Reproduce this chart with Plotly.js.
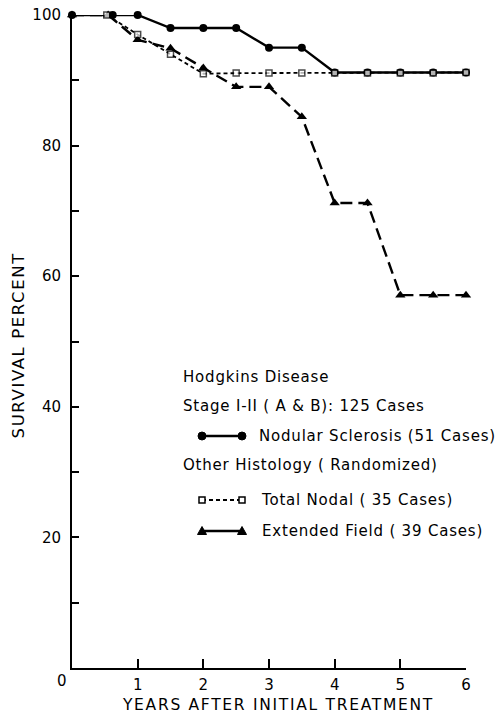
<!DOCTYPE html>
<html><head><meta charset="utf-8">
<script src="https://cdn.plot.ly/plotly-3.0.1.min.js"></script>
<style>
html,body{margin:0;padding:0;background:#fff}
#chart{width:495px;height:715px}
.annotation-text{letter-spacing:0.8px}
</style></head><body><div id="chart"></div>
<script>
// Data
const yearsNodular = [0, 0.62, 1, 1.5, 2, 2.5, 3, 3.5, 4, 4.5, 5, 5.5, 6];
const survNodular  = [100, 100, 100, 98, 98, 98, 95, 95, 91.2, 91.2, 91.2, 91.2, 91.2];
const yearsTotal   = [0, 0.53, 1, 1.5, 2, 2.5, 3, 3.5, 4, 4.5, 5, 5.5, 6];
const survTotal    = [100, 100, 97, 94, 91, 91.1, 91.1, 91.1, 91.1, 91.1, 91.1, 91.1, 91.2];
const yearsExt     = [0, 0.55, 1, 1.5, 2, 2.5, 3, 3.5, 4, 4.5, 5, 5.5, 6];
const survExt      = [100, 100, 96.2, 94.9, 91.9, 89, 89, 84.4, 71.2, 71.2, 57.1, 57.1, 57.1];
const xTickVals = [1, 2, 3, 4, 5, 6];
const xTickText = ['1', '2', '3', '4', '5', '6'];
const yTickVals = [0, 10, 20, 30, 40, 50, 60, 70, 80, 90, 100];
const yTickText = ['', '', '20', '', '40', '', '60', '', '80', '', '100'];
const namesSeries = ['Nodular Sclerosis (51 Cases)', 'Total Nodal ( 35 Cases)', 'Extended Field ( 39 Cases)'];

const W = 495, H = 715, L = 72, R = 29, T = 15, B = 47;
const pw = W - L - R, ph = H - T - B;
function px(x) { return (x - L) / pw; }
function py(y) { return (H - B - y) / ph; }

const traces = [
  {x: yearsExt, y: survExt, mode: 'lines+markers', name: namesSeries[2], cliponaxis: false,
   line: {color: '#000', width: 2.4, dash: '12px,6px'},
   marker: {symbol: 'triangle-up', size: 9, color: '#000'}},
  {x: yearsNodular, y: survNodular, mode: 'lines+markers', name: namesSeries[0], cliponaxis: false,
   line: {color: '#000', width: 2.4},
   marker: {symbol: 'circle', size: 8, color: '#000'}},
  {x: yearsTotal, y: survTotal, mode: 'lines+markers', name: namesSeries[1], cliponaxis: false,
   line: {color: '#000', width: 1.8, dash: '4px,3px'},
   marker: {symbol: 'square', size: yearsTotal.map(v => v === 0 ? 0 : 6), color: '#fff',
            line: {color: '#000', width: 1.5}}}
];

const F = 'DejaVu Sans, sans-serif';
function txt(text, x, y, size, xanchor, extra) {
  return Object.assign({text: text, x: px(x), y: py(y), xref: 'paper', yref: 'paper',
    xanchor: xanchor || 'left', yanchor: 'middle', showarrow: false,
    font: {family: F, size: size, color: '#000'}}, extra || {});
}

const annotations = [
  txt('SURVIVAL PERCENT', 18, 345, 16.5, 'center', {textangle: -90}),
  txt('YEARS AFTER INITIAL TREATMENT', 278, 705, 15.5, 'center'),
  txt('0', 62, 681, 15, 'center'),
  txt('Hodgkins Disease', 181, 377, 15),
  txt('Stage I-II ( A &amp; B): 125 Cases', 181, 406, 15),
  txt(namesSeries[0], 257, 436, 15),
  txt('Other Histology ( Randomized)', 181, 465, 15),
  txt(namesSeries[1], 259, 500, 15),
  txt(namesSeries[2], 260, 531, 15)
];

function lineShape(x0, x1, y, width, dash) {
  return {type: 'line', xref: 'paper', yref: 'paper', x0: px(x0), x1: px(x1), y0: py(y), y1: py(y),
    line: {color: '#000', width: width, dash: dash || 'solid'}};
}
function markShape(kind, x, y) {
  const base = {xref: 'paper', yref: 'paper', xsizemode: 'pixel', ysizemode: 'pixel',
    xanchor: px(x), yanchor: py(y)};
  if (kind === 'circle') return Object.assign(base, {type: 'circle', x0: -4, x1: 4, y0: -4, y1: 4,
    fillcolor: '#000', line: {color: '#000', width: 1}});
  if (kind === 'square') return Object.assign(base, {type: 'rect', x0: -3, x1: 3, y0: -3, y1: 3,
    fillcolor: '#fff', line: {color: '#000', width: 1.5}});
  return Object.assign(base, {type: 'path', path: 'M-4.5,-3.5 L4.5,-3.5 L0,4.5 Z',
    fillcolor: '#000', line: {color: '#000', width: 1}});
}
const shapes = [
  lineShape(202, 242, 436, 2.4), markShape('circle', 202, 436), markShape('circle', 242, 436),
  lineShape(202, 242, 500, 1.8, '4px,3px'), markShape('square', 202, 500), markShape('square', 242, 500),
  lineShape(202, 242, 531, 2.4), markShape('triangle', 202, 531), markShape('triangle', 242, 531)
];

const layout = {
  width: W, height: H, margin: {l: L, r: R, t: T, b: B},
  paper_bgcolor: '#fff', plot_bgcolor: '#fff', showlegend: false,
  font: {family: F, color: '#000'},
  xaxis: {range: [0, 6], tickvals: xTickVals, ticktext: xTickText, ticks: 'inside', ticklen: 9,
    tickwidth: 2, tickcolor: '#000', showline: true, linewidth: 2, linecolor: '#000',
    showgrid: false, zeroline: false, tickfont: {size: 15}, ticklabelstandoff: 2},
  yaxis: {range: [0, 100], tickvals: yTickVals, ticktext: yTickText, ticks: 'inside', ticklen: 7,
    tickwidth: 2, tickcolor: '#000', showline: true, linewidth: 2, linecolor: '#000',
    showgrid: false, zeroline: false, tickfont: {size: 15}, ticklabelstandoff: 6},
  annotations: annotations, shapes: shapes
};

Plotly.newPlot('chart', traces, layout, {displayModeBar: false, staticPlot: true}).then(function () {
  // wider letter spacing for the two axis titles, as in the hand-lettered original
  const anns = document.querySelectorAll('.annotation-text');
  if (anns[0]) anns[0].style.letterSpacing = '1.6px';
  if (anns[1]) anns[1].style.letterSpacing = '1.7px';
});
</script></body></html>
